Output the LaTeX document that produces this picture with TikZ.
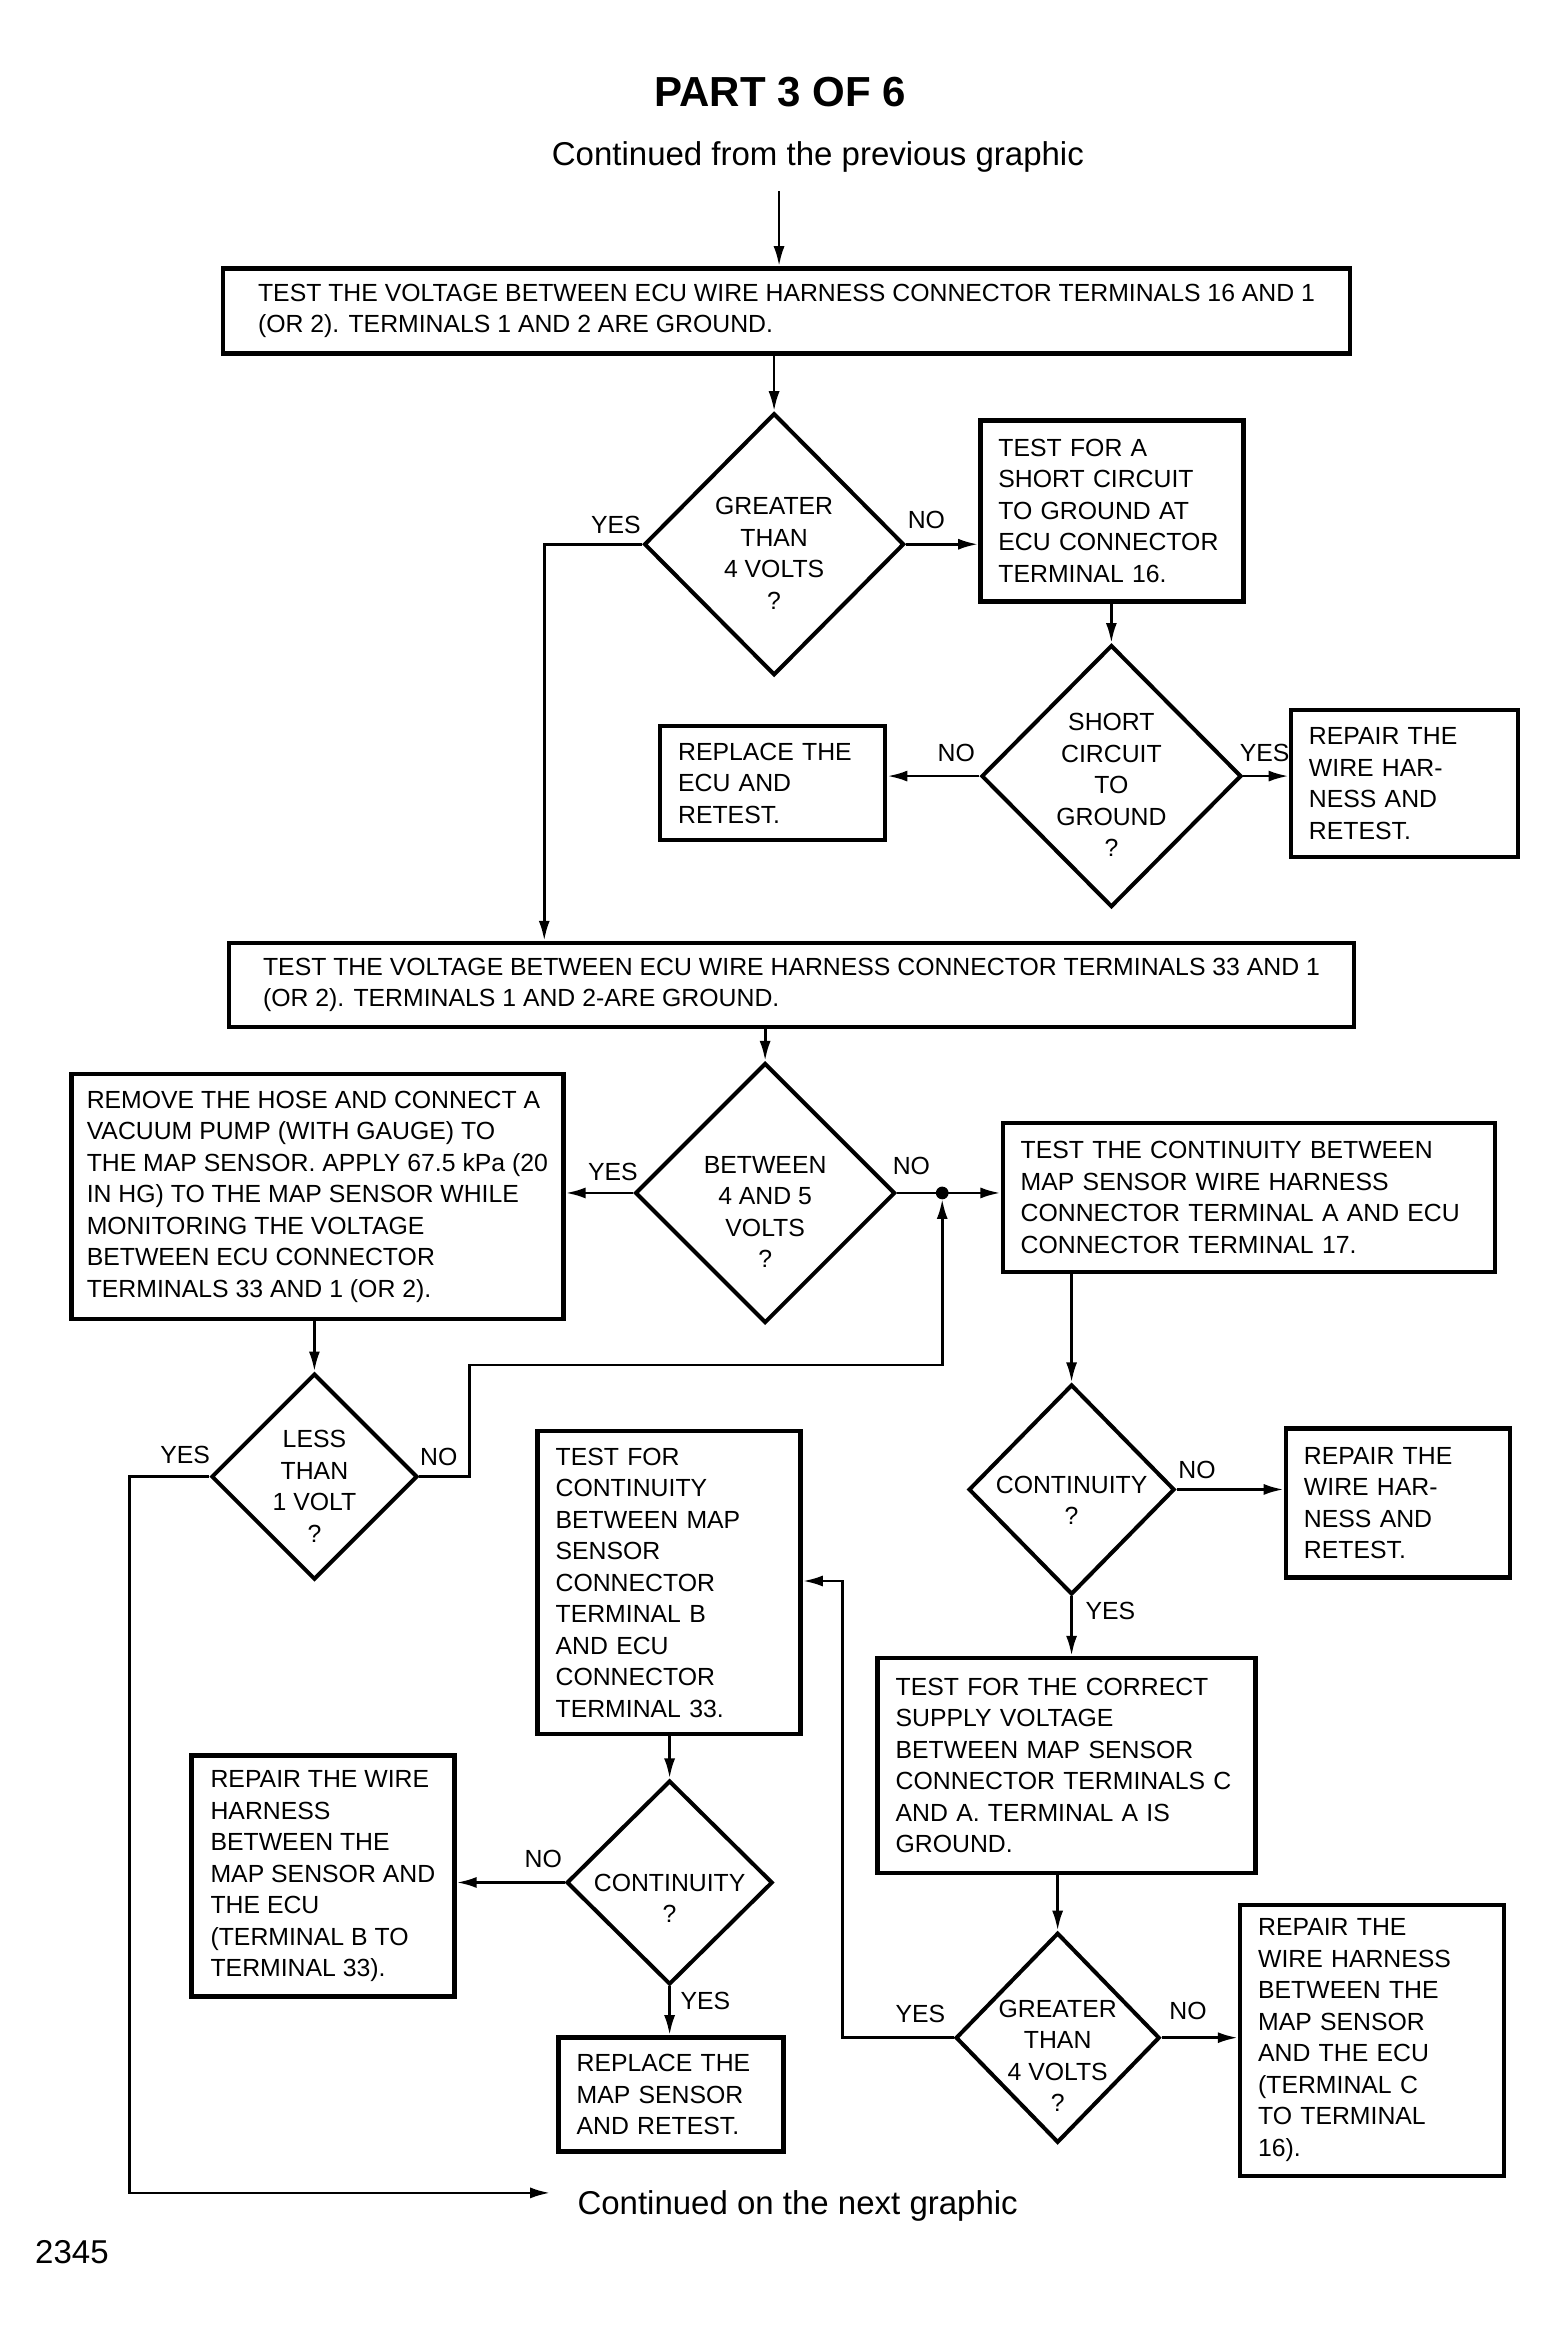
\documentclass[tikz,border=0pt]{standalone}
\usepackage{fontspec}
\setmainfont{Liberation Sans}
\usetikzlibrary{shapes.geometric,arrows.meta}
\begin{document}
\begin{tikzpicture}[x=0.5pt,y=-0.5pt,
  every node/.style={font=\fontsize{12.4}{15.75}\selectfont},
  box/.style={draw, line width=2.2pt, align=left, inner sep=0pt},
  lbox/.style={box, inner xsep=9pt, text width=#1},
  dia/.style={draw, diamond, line width=2pt, inner sep=0pt},
  dtext/.style={align=center, inner sep=0pt},
  lbl/.style={inner sep=0pt},
  big/.style={inner sep=0pt, font=\fontsize{16.5}{20}\selectfont},
  ln/.style={line width=1.4pt},
  arr/.style={line width=1.4pt, -{Latex[length=10pt,width=5.5pt]}}]
\useasboundingbox (0,0) rectangle (1556,2339);
\begin{scope}[scale=0.995]
% titles
\node[inner sep=0pt, font=\fontsize{21}{25}\selectfont\bfseries] (title) at (784,93) {PART 3 OF 6};
\node[big] (cont1) at (822,158) {Continued from the previous graphic};
\node[big, anchor=west] (cont2) at (580,2217) {Continued on the next graphic};
\node[big, anchor=west] (num) at (35,2263) {2345};

% boxes
\node[box, minimum width=563.5pt, minimum height=42.5pt] (b1) at (790.5,312.5)
 {TEST THE VOLTAGE BETWEEN ECU WIRE HARNESS CONNECTOR TERMINALS 16 AND 1\\(OR 2). TERMINALS 1 AND 2 ARE GROUND.};
\node[lbox=113.5pt, minimum height=90.5pt] (b3) at (1117.5,513.5)
 {TEST FOR A\\SHORT CIRCUIT\\TO GROUND AT\\ECU CONNECTOR\\TERMINAL 16.};
\node[lbox=94.5pt, minimum height=57pt] (b4) at (776.5,787)
 {REPLACE THE\\ECU AND\\RETEST.};
\node[lbox=95.5pt, minimum height=73.5pt] (b5) at (1411.5,787.5)
 {REPAIR THE\\WIRE HAR-\\NESS AND\\RETEST.};
\node[box, minimum width=562.5pt, minimum height=42pt] (b6) at (795.5,990)
 {TEST THE VOLTAGE BETWEEN ECU WIRE HARNESS CONNECTOR TERMINALS 33 AND 1\\(OR 2). TERMINALS 1 AND 2-ARE GROUND.};
\node[box, minimum width=246pt, minimum height=122.5pt] (b7) at (319,1202.5)
 {REMOVE THE HOSE AND CONNECT A\\VACUUM PUMP (WITH GAUGE) TO\\THE MAP SENSOR. APPLY 67.5 kPa (20\\IN HG) TO THE MAP SENSOR WHILE\\MONITORING THE VOLTAGE\\BETWEEN ECU CONNECTOR\\TERMINALS 33 AND 1 (OR 2).};
\node[lbox=228pt, minimum height=74.5pt] (b8) at (1255,1203.5)
 {TEST THE CONTINUITY BETWEEN\\MAP SENSOR WIRE HARNESS\\CONNECTOR TERMINAL A AND ECU\\CONNECTOR TERMINAL 17.};
\node[lbox=94pt, minimum height=74.5pt] (b11) at (1405,1510.5)
 {REPAIR THE\\WIRE HAR-\\NESS AND\\RETEST.};
\node[lbox=171pt, minimum height=107.5pt] (b12) at (1072,1774.5)
 {TEST FOR THE CORRECT\\SUPPLY VOLTAGE\\BETWEEN MAP SENSOR\\CONNECTOR TERMINALS C\\AND A. TERMINAL A IS\\GROUND.};
\node[lbox=114pt, minimum height=135.5pt] (b13) at (1379,2050.5)
 {REPAIR THE\\WIRE HARNESS\\BETWEEN THE\\MAP SENSOR\\AND THE ECU\\(TERMINAL C\\TO TERMINAL\\16).};
\node[lbox=113.5pt, minimum height=151.5pt] (b9) at (672.5,1590.5)
 {TEST FOR\\CONTINUITY\\BETWEEN MAP\\SENSOR\\CONNECTOR\\TERMINAL B\\AND ECU\\CONNECTOR\\TERMINAL 33.};
\node[box, minimum width=131.5pt, minimum height=120.5pt] (b10) at (324.5,1885.5)
 {REPAIR THE WIRE\\HARNESS\\BETWEEN THE\\MAP SENSOR AND\\THE ECU\\(TERMINAL B TO\\TERMINAL 33).};
\node[lbox=94.5pt, minimum height=57pt] (b14) at (674.5,2105)
 {REPLACE THE\\MAP SENSOR\\AND RETEST.};

% diamonds
\node[dia, minimum width=130pt, minimum height=131pt] (d1) at (778,547) {};
\node[dtext] (d1t) at (778,556) {GREATER\\THAN\\4 VOLTS\\?};
\node[dia, minimum width=130pt, minimum height=131pt] (d2) at (1117,780) {};
\node[dtext] (d2t) at (1117,789) {SHORT\\CIRCUIT\\TO\\GROUND\\?};
\node[dia, minimum width=130pt, minimum height=130pt] (d3) at (769,1199) {};
\node[dtext] (d3t) at (769,1218) {BETWEEN\\4 AND 5\\VOLTS\\?};
\node[dia, minimum width=103pt, minimum height=103pt] (d4) at (316,1484) {};
\node[dtext] (d4t) at (316,1494) {LESS\\THAN\\1 VOLT\\?};
\node[dia, minimum width=103pt, minimum height=102pt] (d5) at (673,1892) {};
\node[dtext] (d5t) at (673,1908) {CONTINUITY\\?};
\node[dia, minimum width=103pt, minimum height=105pt] (dR) at (1077,1497) {};
\node[dtext] (dRt) at (1077,1508) {CONTINUITY\\?};
\node[dia, minimum width=102pt, minimum height=105pt] (d6) at (1063,2048) {};
\node[dtext] (d6t) at (1063,2066) {GREATER\\THAN\\4 VOLTS\\?};

% labels
\node[lbl] (l1y) at (619,528) {YES};
\node[lbl] (l1n) at (931,523) {NO};
\node[lbl] (l2n) at (961,757) {NO};
\node[lbl] (l2y) at (1271,757) {YES};
\node[lbl] (l3y) at (616,1178) {YES};
\node[lbl] (l3n) at (916,1172) {NO};
\node[lbl] (l4y) at (186,1462) {YES};
\node[lbl] (l4n) at (441,1464) {NO};
\node[lbl] (lRn) at (1203,1477) {NO};
\node[lbl] (lRy) at (1116,1619) {YES};
\node[lbl] (l6y) at (925,2024) {YES};
\node[lbl] (l6n) at (1194,2021) {NO};
\node[lbl] (l5n) at (546,1868) {NO};
\node[lbl] (l5y) at (709,2011) {YES};

% coordinates
\coordinate (s0) at (783,192);
\coordinate (y1) at (547,547);
\coordinate (j) at (947,1199);
\coordinate (n4) at (472,1484);
\coordinate (n4t) at (472,1372);
\coordinate (y4) at (130,1484);
\coordinate (y4b) at (130,2204);
\coordinate (e) at (553,2204);
\coordinate (c6) at (847,1589);

% connectors
\draw[arr] (s0) -- (s0 |- b1.north);
\draw[arr] (d1.north |- b1.south) -- (d1.north);
\draw[arr] (d1.west) -- (y1) -- (y1 |- b6.north);
\draw[arr] (d1.east) -- (d1.east -| b3.west);
\draw[arr] (d2.north |- b3.south) -- (d2.north);
\draw[arr] (d2.west) -- (d2.west -| b4.east);
\draw[arr] (d2.east) -- (d2.east -| b5.west);
\draw[arr] (d3.north |- b6.south) -- (d3.north);
\draw[arr] (d3.west) -- (d3.west -| b7.east);
\draw[arr] (d3.east) -- (d3.east -| b8.west);
\fill (j) circle (3.2pt);
\draw[arr] (d4.north |- b7.south) -- (d4.north);
\draw[arr] (d4.east) -- (n4) -- (n4t) -- (n4t -| j) -- ([yshift=-3pt]j);
\draw[arr] (d4.west) -- (y4) -- (y4b) -- (e);
\draw[arr] (dR.north |- b8.south) -- (dR.north);
\draw[arr] (dR.east) -- (dR.east -| b11.west);
\draw[arr] (dR.south) -- (dR.south |- b12.north);
\draw[arr] (d6.north |- b12.south) -- (d6.north);
\draw[arr] (d6.east) -- (d6.east -| b13.west);
\draw[arr] (d6.west) -- (d6.west -| c6) -- (c6) -- (c6 -| b9.east);
\draw[arr] (d5.north |- b9.south) -- (d5.north);
\draw[arr] (d5.west) -- (d5.west -| b10.east);
\draw[arr] (d5.south) -- (d5.south |- b14.north);
\end{scope}
\end{tikzpicture}
\end{document}
